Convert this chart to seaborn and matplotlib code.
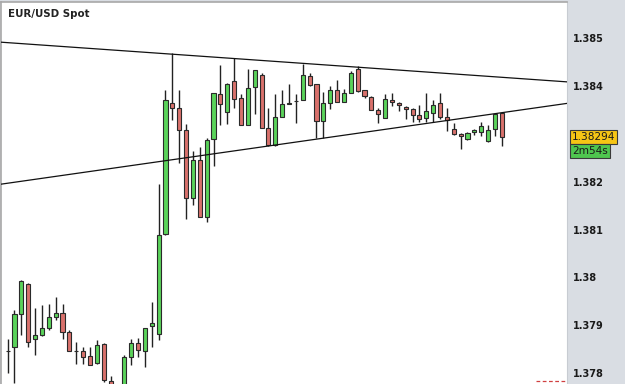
import matplotlib
matplotlib.use("Agg")
import matplotlib.pyplot as plt
import numpy as np
import pandas as pd
import seaborn as sns
from matplotlib.transforms import blended_transform_factory

# ---------------- data ----------------
title = "EUR/USD Spot"
opens = [1.37846, 1.37854, 1.37924, 1.37987, 1.37872, 1.37879, 1.37895, 1.37917, 1.37926, 1.37886,
         1.37847, 1.37846, 1.37835, 1.37820, 1.37860, 1.37784, 1.37760, 1.37754, 1.37833, 1.37862,
         1.37847, 1.37898, 1.37881, 1.38090, 1.38364, 1.38354, 1.38308, 1.38167, 1.38245, 1.38127,
         1.38290, 1.38383, 1.38346, 1.38410, 1.38376, 1.38319, 1.38399, 1.38423, 1.38312, 1.38276,
         1.38336, 1.38363, 1.38369, 1.38372, 1.38422, 1.38404, 1.38327, 1.38365, 1.38391, 1.38367,
         1.38386, 1.38435, 1.38391, 1.38378, 1.38351, 1.38334, 1.38372, 1.38365, 1.38357, 1.38353,
         1.38339, 1.38334, 1.38344, 1.38365, 1.38336, 1.38310, 1.38299, 1.38289, 1.38304, 1.38304,
         1.38285, 1.38311, 1.38344]
highs = [1.37871, 1.37931, 1.37995, 1.37988, 1.37937, 1.37942, 1.37945, 1.37960, 1.37945, 1.37891,
         1.37865, 1.37855, 1.37855, 1.37870, 1.37862, 1.37794, 1.37765, 1.37838, 1.37872, 1.37874,
         1.37895, 1.37949, 1.38195, 1.38391, 1.38469, 1.38393, 1.38320, 1.38265, 1.38273, 1.38292,
         1.38386, 1.38444, 1.38407, 1.38458, 1.38384, 1.38436, 1.38434, 1.38427, 1.38355, 1.38383,
         1.38393, 1.38404, 1.38383, 1.38447, 1.38428, 1.38405, 1.38388, 1.38400, 1.38413, 1.38395,
         1.38431, 1.38442, 1.38392, 1.38379, 1.38355, 1.38383, 1.38385, 1.38366, 1.38358, 1.38354,
         1.38360, 1.38386, 1.38372, 1.38386, 1.38355, 1.38322, 1.38302, 1.38304, 1.38310, 1.38325,
         1.38318, 1.38343, 1.38346]
lows = [1.37801, 1.37780, 1.37879, 1.37854, 1.37838, 1.37878, 1.37891, 1.37910, 1.37872, 1.37846,
        1.37819, 1.37819, 1.37816, 1.37819, 1.37781, 1.37752, 1.37730, 1.37748, 1.37817, 1.37834,
        1.37812, 1.37855, 1.37870, 1.38089, 1.38329, 1.38240, 1.38122, 1.38151, 1.38126, 1.38115,
        1.38232, 1.38319, 1.38320, 1.38355, 1.38318, 1.38318, 1.38341, 1.38312, 1.38275, 1.38275,
        1.38335, 1.38362, 1.38324, 1.38371, 1.38401, 1.38292, 1.38292, 1.38353, 1.38366, 1.38366,
        1.38385, 1.38388, 1.38376, 1.38350, 1.38324, 1.38333, 1.38358, 1.38348, 1.38331, 1.38325,
        1.38325, 1.38325, 1.38325, 1.38331, 1.38306, 1.38298, 1.38268, 1.38288, 1.38297, 1.38296,
        1.38284, 1.38296, 1.38275]
closes = [1.37847, 1.37924, 1.37992, 1.37865, 1.37879, 1.37895, 1.37917, 1.37926, 1.37886, 1.37847,
          1.37846, 1.37833, 1.37817, 1.37858, 1.37785, 1.37760, 1.37745, 1.37834, 1.37862, 1.37848,
          1.37894, 1.37904, 1.38088, 1.38372, 1.38355, 1.38308, 1.38166, 1.38245, 1.38127, 1.38287,
          1.38385, 1.38362, 1.38404, 1.38374, 1.38319, 1.38396, 1.38433, 1.38313, 1.38276, 1.38336,
          1.38362, 1.38364, 1.38368, 1.38423, 1.38402, 1.38327, 1.38365, 1.38391, 1.38367, 1.38386,
          1.38428, 1.38389, 1.38379, 1.38351, 1.38341, 1.38374, 1.38367, 1.38360, 1.38353, 1.38339,
          1.38332, 1.38349, 1.38360, 1.38336, 1.38329, 1.38299, 1.38296, 1.38303, 1.38308, 1.38317,
          1.38308, 1.38341, 1.38294]

# trend lines (bar index, price) endpoints
upper_line_x = [-0.975, 81.5]
upper_line_y = [1.38492, 1.38409]
lower_line_x = [-0.975, 81.5]
lower_line_y = [1.38195, 1.38364]

tick_values = [1.385, 1.384, 1.382, 1.381, 1.380, 1.379, 1.378]
tick_labels = ["1.385", "1.384", "1.382", "1.381", "1.38", "1.379", "1.378"]
last_price_label = "1.38294"
timer_label = "2m54s"
timer_level = 1.38265
dashed_level = 1.37783

# ---------------- drawing ----------------
sns.set_theme(style="white")
plt.rcParams["font.family"] = ["DejaVu Sans"]

df = pd.DataFrame({"open": opens, "high": highs, "low": lows, "close": closes})
df["idx"] = np.arange(len(df))
df["up"] = df["close"] >= df["open"]
df["bottom"] = df[["open", "close"]].min(axis=1)
df["height"] = (df["close"] - df["open"]).abs().clip(lower=0.000004)

W, H = 625, 384
fig = plt.figure(figsize=(W / 100, H / 100), dpi=100)
fig.patch.set_facecolor("#d9dde3")
ax = fig.add_axes([0.0015, 0.0, 567 / W - 0.0015, 1 - 1.5 / H])
ax.set_facecolor("white")

green = "#5ad35a"
red = "#d9716c"
edge = "#2a2a2a"

ax.vlines(df["idx"], df["low"], df["high"], color="#222222", linewidth=1.0, zorder=2)
ax.bar(df["idx"], df["height"], bottom=df["bottom"], width=0.6,
       color=[green if u else red for u in df["up"]], edgecolor=edge, linewidth=0.8, zorder=3)

trend = pd.DataFrame({"x": upper_line_x + lower_line_x,
                      "y": upper_line_y + lower_line_y,
                      "line": ["upper", "upper", "lower", "lower"]})
sns.lineplot(data=trend, x="x", y="y", units="line", estimator=None, color="#111111",
             linewidth=0.9, ax=ax, zorder=4, legend=False)

ax.plot([77.0, 81.5], [dashed_level, dashed_level], color="#d04040", linewidth=0.9,
        linestyle=(0, (3, 2)), zorder=4, clip_on=False)

ax.set_xlim(-0.975, 81.5)
ax.set_ylim(1.385 - 347 / 48000, 1.385 + 37 / 48000)
ax.set_xticks([])
ax.set_xlabel("")
ax.set_ylabel("")
ax.yaxis.tick_right()
ax.set_yticks(tick_values)
ax.set_yticklabels(tick_labels, fontsize=7, fontweight="bold", color="#1a1a1a")
ax.tick_params(axis="y", length=0, pad=4.5)

for side in ["left", "top"]:
    ax.spines[side].set_visible(True)
    ax.spines[side].set_color("#a8a8a8")
    ax.spines[side].set_linewidth(1.2)
ax.spines["right"].set_visible(True)
ax.spines["right"].set_color("#c8ccd2")
ax.spines["right"].set_linewidth(0.8)
ax.spines["bottom"].set_visible(False)

ax.text(0.012, 0.968, title, transform=ax.transAxes, fontsize=7.4, fontweight="bold",
        color="#222222", ha="left", va="center")

tr = blended_transform_factory(ax.transAxes, ax.transData)
ax.text(1.009, closes[-1], last_price_label, transform=tr, fontsize=7.6, color="#1a1a1a",
        ha="left", va="center", clip_on=False, zorder=6,
        bbox=dict(boxstyle="square,pad=0.18", fc="#f6c515", ec="#3a3a3a", lw=0.8))
ax.text(1.009, timer_level, timer_label, transform=tr, fontsize=7.6, color="#1a1a1a",
        ha="left", va="center", clip_on=False, zorder=6,
        bbox=dict(boxstyle="square,pad=0.18", fc="#4fc64f", ec="#3a3a3a", lw=0.8))

fig.savefig("out.png", dpi=100, facecolor=fig.get_facecolor())
